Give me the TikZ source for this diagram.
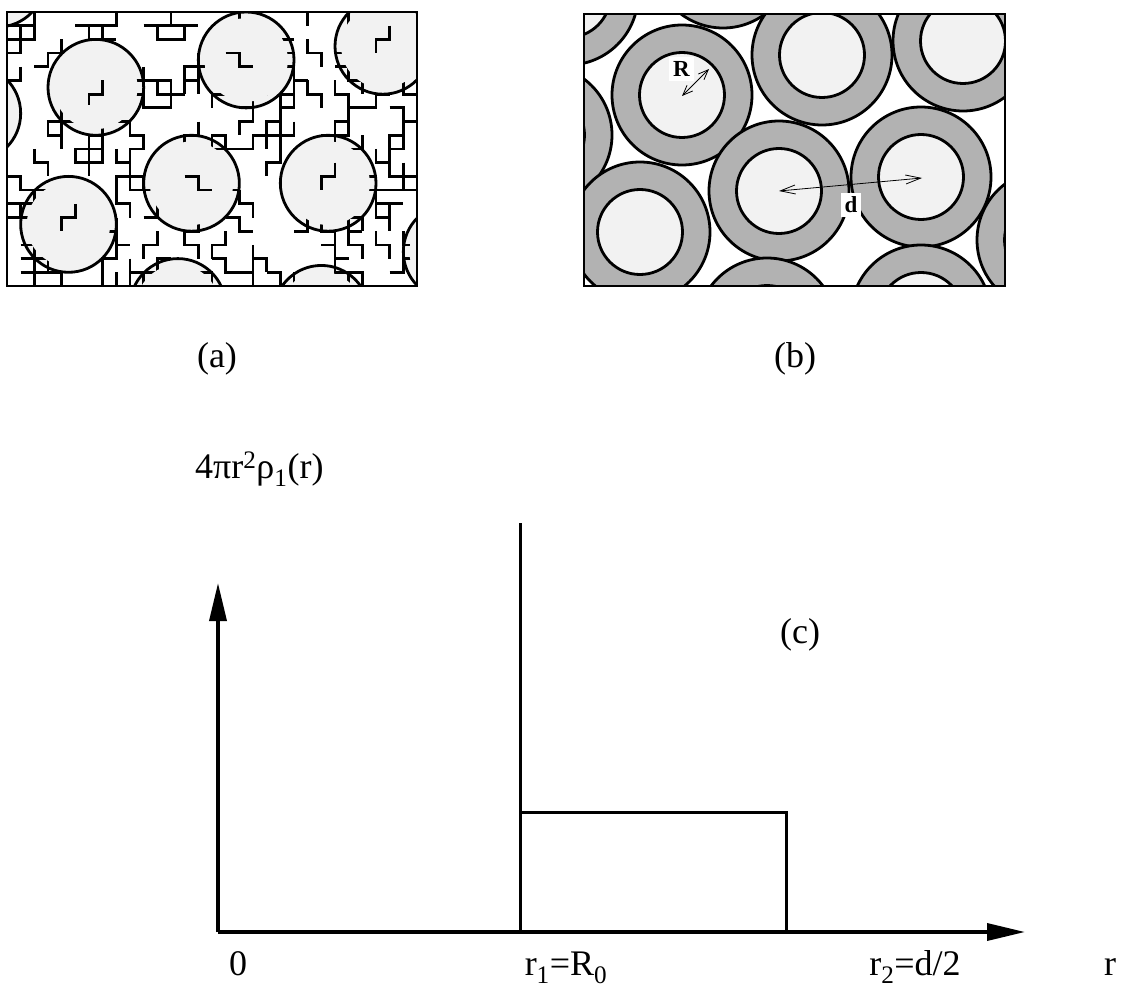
\documentclass[tikz,border=0pt]{standalone}
\usepackage{fontspec}
\setmainfont{Liberation Serif}
\usetikzlibrary{arrows.meta, positioning, calc}

\begin{document}
\begin{tikzpicture}[x=1pt, y=-1pt,
    frame/.style={line width=1.4pt},
    chain/.style={line width=2.8pt},
    ball/.style={line width=2.8pt},
    ballfill/.style={fill=black!5},
    shell/.style={draw, line width=2.8pt, fill=black!30},
    core/.style={draw, line width=2.8pt, fill=black!5},
    dim/.style={line width=0.8pt},
    tag/.style={fill=white, inner sep=4pt, font=\bfseries\fontsize{23}{23}\selectfont},
    lbl/.style={font=\fontsize{36}{40}\selectfont, inner sep=0pt},
    axis/.style={line width=3.5pt, -{Triangle[length=38pt, width=17pt]}},
    curve/.style={line width=3pt}]
    \useasboundingbox (0,0) rectangle (1121,987);

    % (a) grains in a network of chains
    \begin{scope}
        \clip (7,12) rectangle (417,286);
        \begin{scope}[shift={(7,12)}, x=13.667pt, y=-13.7pt]
            \def\grains{(6.5,5.5), (17.5,3.5), (27.5,2.5), (-2.5,7.4), (-0.7,-2.4),
                (13.5,12.5), (23.5,12.5), (4.5,15.5), (12.5,21.5), (23,22), (32.5,17.5)}
            \foreach \c in \grains \fill[ballfill] \c circle[radius=3.5];
            % chains on the lattice
            \pgfmathsetseed{2024}
            \foreach \i in {-1,...,30} {
                \foreach \j in {-1,...,20} {
                    \pgfmathsetmacro\ra{rnd}
                    \pgfmathtruncatemacro\chaindir{4*rnd}
                    \ifdim\ra pt<0.27pt
                        \ifcase\chaindir
                            \draw[chain] (\i,\j) -- ++(1,0) -- ++(0,1) -- ++(1,0);
                        \or
                            \draw[chain] (\i,\j) -- ++(0,1) -- ++(-1,0) -- ++(0,1);
                        \or
                            \draw[chain] (\i,\j) -- ++(1,0) -- ++(0,-1) -- ++(1,0);
                        \or
                            \draw[chain] (\i,\j) -- ++(0,1) -- ++(1,0) -- ++(0,1);
                        \fi
                    \fi
                }
            }
            \foreach \c in \grains \fill[ballfill] \c circle[radius=3.05];
            \foreach \c in \grains \draw[ball] \c circle[radius=3.5];
            % chain pieces inside the grains
            \draw[chain] (7,5) -- (7,6) -- (6,6) -- (6,6.8);
            \draw[chain] (16,3) -- (17,3) -- (17,4) -- (18,4);
            \draw[chain] (28,1) -- (28,2) -- (27,2) -- (27,3);
            \draw[chain] (13,12) -- (14,12) -- (14,13) -- (15,13);
            \draw[chain] (24,11) -- (24,12) -- (23,12) -- (23,13);
            \draw[chain] (5,14) -- (5,15) -- (4,15) -- (4,16);
        \end{scope}
    \end{scope}
    \draw[frame] (7,12) rectangle (417,286);
    \node[lbl, anchor=base] (capA) at (217,367) {(a)};

    % (b) core-shell particles
    \begin{scope}
        \clip (584,14) rectangle (1005,286);
        \foreach \c in {(568,-5), (723,-42), (682,95), (822,55), (963,41), (542,135),
            (779,191), (921,177), (640,232), (767,328), (921,315), (1047,240)} {
            \path[shell] \c circle[radius=70];
            \path[core] \c circle[radius=42.5];
        }
    \end{scope}
    \draw[frame] (584,14) rectangle (1005,286);
    \coordinate (coreA) at (682,96);
    \coordinate (rimA) at (709,69);
    \coordinate (coreD) at (779,191);
    \coordinate (coreE) at (922,178);
    \draw[dim, {Straight Barb[length=10pt, width=8pt]}-{Straight Barb[length=10pt, width=8pt]}] (coreA) -- (rimA);
    \draw[dim, {Straight Barb[length=15pt, width=9pt]}-{Straight Barb[length=15pt, width=9pt]}] (coreD) -- (coreE);
    \node[tag] (labR) at (681.5,69) {R};
    \node[tag] (labd) at (851,205) {d};
    \node[lbl, anchor=base] (capB) at (795,367) {(b)};

    % (c) radial density
    \coordinate (O) at (218,932);
    \coordinate (ytip) at (218,583);
    \coordinate (xtip) at (1025,932);
    \coordinate (r1) at (520,932);
    \coordinate (r1top) at (520,523);
    \coordinate (s1) at (520,812);
    \coordinate (s2) at (786,812);
    \coordinate (r2) at (786,932);
    \draw[axis] (O) -- (ytip);
    \draw[axis] (O) -- (xtip);
    \draw[curve] (r1top) -- (r1);
    \draw[curve] (s1) -- (s2) -- (r2);
    \node[lbl, anchor=base west] (ylab) at (195,478) {4πr\textsuperscript{2}ρ\textsubscript{1}(r)};
    \node[lbl, anchor=base] (capC) at (800,643) {(c)};
    \node[lbl, anchor=base] (lab0) at (238,975) {0};
    \node[lbl, anchor=base] (labr1) at (566,975) {r\textsubscript{1}=R\textsubscript{0}};
    \node[lbl, anchor=base] (labr2) at (915,975) {r\textsubscript{2}=d/2};
    \node[lbl, anchor=base] (labr) at (1110,975) {r};
\end{tikzpicture}
\end{document}
